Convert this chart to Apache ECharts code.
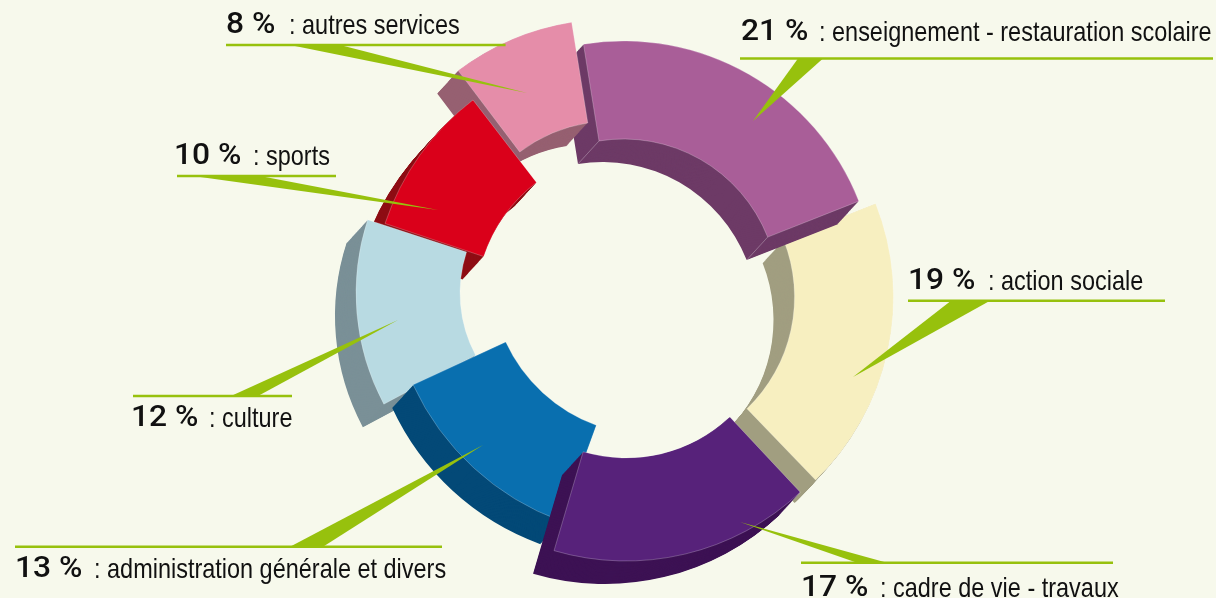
<!DOCTYPE html>
<html>
<head>
<meta charset="utf-8">
<style>html,body{margin:0;padding:0;background:#F7F9EC}#c{width:1216px;height:598px}</style>
<script src="https://cdn.jsdelivr.net/npm/echarts@6/dist/echarts.min.js"></script>
</head>
<body>
<div id="c"></div>
<script>
// Data
const categories = ['enseignement - restauration scolaire','action sociale','cadre de vie - travaux','administration générale et divers','culture','sports','autres services'];
const shares = [21,19,17,13,12,10,8];

// Colours
const faceColors = ['#A95E98','#F7EFC0','#57227A','#096FAF','#B8DAE2','#DA001A','#E58DA9'];
const wallColors = ['#6D3A66','#A19E80','#3D1254','#034977','#7A9097','#8E0D14','#966071'];
const green = '#97C10D';
const ink = '#111111';

// Layout of the exploded ring, per slice (clockwise angles from 12 o'clock)
const centers = [[623.5,294],[639.5,297],[626,306],[651,275],[592,293],[631.6,306],[612,274]];
const outerR = [253,254,255,262,236,260,255];
const innerR = [155,155,152,160,132,156,153];
const startDeg = [-9.1,68.4,136.9,200,241.9,288.5,322.9];
const spanScale = [1.026,0.99,0.972,0.966,1.069,0.942,0.972];
const drawOrder = [1,0,6,5,4,3,2];
const depth = [-21,23];
const depthSteps = 30;
// Corners whose edge of extrusion shows as a thin light line: [slice, inner?, end?]
const cornerLines = [[0,true,false],[0,true,true],[2,false,false],[4,false,true]];

// Callout geometry: rule [x0,x1,y], wedge base [x0,x1], wedge tip [x,y], text [numX,descX,baseline]
const rules = [[740,1213,58.5],[908,1165,300.7],[801,1113,562.7],[15,442,546.7],[133,292,396],[177,336,176],[226,505.6,45]];
const wedgeBases = [[798,823],[951,990],[857,887],[290,323],[231,258],[193,260],[290,340]];
const wedgeTips = [[753,121],[853,377],[740,522],[483,445],[398,320],[438,210],[527,93]];
const textPos = [[741,819,47],[908,988,296],[801,880,603],[15,94,584],[131,209,433],[174,253,171],[226,289,40]];
const numScaleX = 1.06;
const descScaleX = 0.838;

const total = shares.reduce((a,b)=>a+b,0);
const series = [];
let z = 1;
function slice(i, cx, cy, color, border){
  const sum = total / spanScale[i];
  series.push({
    type:'pie', silent:true, animation:false, z:z++,
    clockwise:true, startAngle:90-startDeg[i], avoidLabelOverlap:false,
    center:[cx,cy], radius:[innerR[i],outerR[i]],
    label:{show:false}, labelLine:{show:false},
    emphasis:{disabled:true},
    data:[
      {name:categories[i], value:shares[i], itemStyle: border
        ? {color:color,borderColor:'rgba(255,255,255,0.4)',borderWidth:0.6}
        : {color:color,borderWidth:0}},
      {name:'', value:sum-shares[i], itemStyle:{color:'rgba(0,0,0,0)',borderWidth:0}}
    ]
  });
}
drawOrder.forEach(i=>{
  const [cx,cy]=centers[i];
  for(let k=depthSteps;k>=1;k--){
    slice(i, cx+depth[0]*k/depthSteps, cy+depth[1]*k/depthSteps, wallColors[i], false);
  }
  slice(i, cx, cy, faceColors[i], true);
});

const graphics = [];
cornerLines.forEach(([i,inner,end])=>{
  const deg = startDeg[i] + (end ? shares[i]/total*360*spanScale[i] : 0);
  const a = deg*Math.PI/180, r = inner ? innerR[i] : outerR[i];
  const x = centers[i][0]+r*Math.sin(a), y = centers[i][1]-r*Math.cos(a);
  graphics.push({type:'line',silent:true,z:999,shape:{x1:x,y1:y,x2:x+depth[0],y2:y+depth[1]},style:{stroke:'rgba(255,255,255,0.4)',lineWidth:0.7}});
});
categories.forEach((name,i)=>{
  const r=rules[i], b=wedgeBases[i], t=wedgeTips[i], p=textPos[i];
  graphics.push({type:'polygon',silent:true,z:1000,shape:{points:[[b[0],r[2]],[b[1],r[2]],t]},style:{fill:green}});
  graphics.push({type:'rect',silent:true,z:1000,shape:{x:r[0],y:r[2]-1.25,width:r[1]-r[0],height:2.5},style:{fill:green}});
  graphics.push({type:'text',silent:true,z:1001,x:p[0],y:p[2]+0.5,scaleX:numScaleX,style:{
    text:shares[i]+' %',x:0,y:0,font:'500 30px Roboto, "Liberation Sans", sans-serif',fill:ink,verticalAlign:'bottom',lineHeight:30}});
  graphics.push({type:'text',silent:true,z:1001,x:p[1],y:p[2],scaleX:descScaleX,style:{
    text:': '+name,x:0,y:0,font:'28px "Liberation Sans", sans-serif',fill:ink,verticalAlign:'bottom',lineHeight:28}});
});

const chart = echarts.init(document.getElementById('c'),null,{renderer:'canvas'});
chart.setOption({backgroundColor:'#F7F9EC',animation:false,series:series,graphic:{elements:graphics}});
</script>
</body>
</html>
